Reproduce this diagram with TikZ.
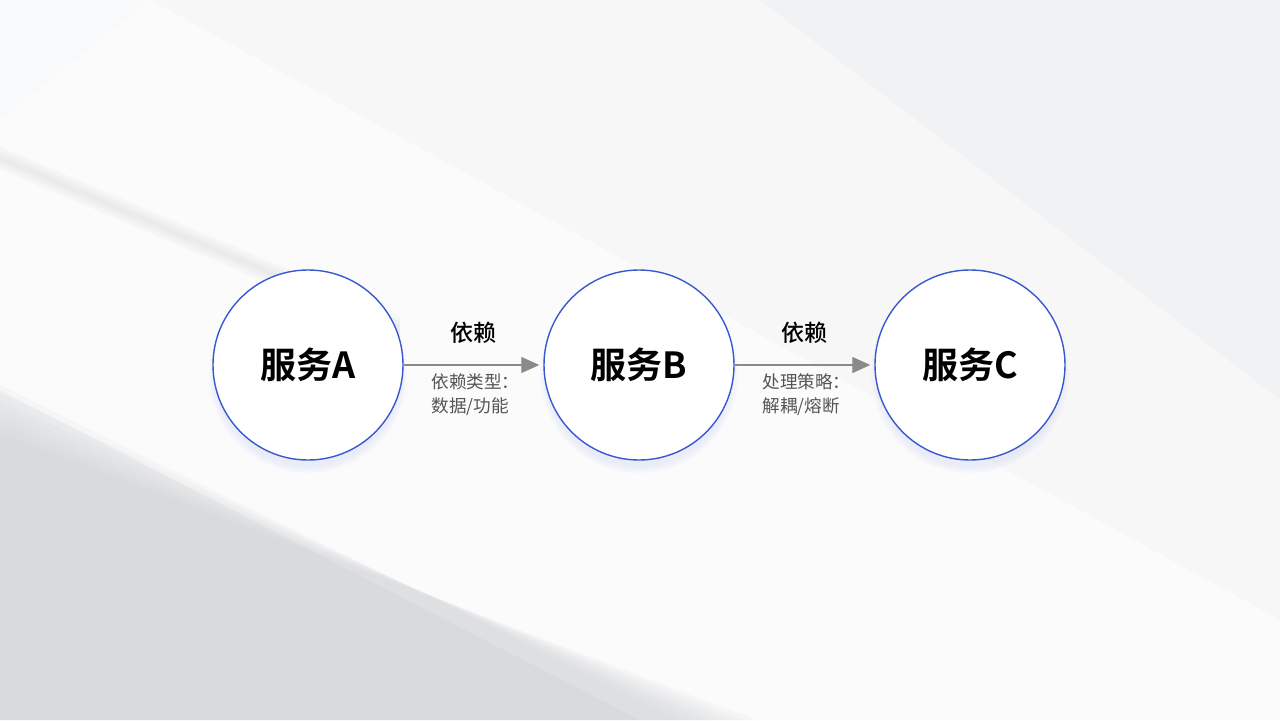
\documentclass[tikz,border=0pt]{standalone}
\usepackage{fontspec}
\setmainfont{Noto Sans CJK SC}
\newfontfamily\cjkbold{Noto Sans CJK SC Bold}
\newfontfamily\cjkmed{Noto Sans CJK SC Medium}
\usetikzlibrary{positioning,shapes,arrows.meta,calc}
\definecolor{ringblue}{HTML}{3858D0}
\definecolor{glowblue}{HTML}{A9BBF2}
\definecolor{arrowgray}{HTML}{8A8A8A}
\definecolor{notegray}{HTML}{555555}
\definecolor{bgbase}{HTML}{F1F2F4}
\definecolor{bgshadow}{HTML}{C4C6CA}
\tikzset{
	svc/.style={circle,draw=ringblue,line width=0.7pt,fill=white,minimum size=95pt,inner sep=0pt,
		font=\cjkbold\fontsize{18}{20}\selectfont},
	dep/.style={-{Triangle[length=9pt,width=8pt]},draw=arrowgray,fill=arrowgray,line width=0.6pt,shorten >=2pt},
	deplabel/.style={font=\cjkmed\fontsize{11.5}{13}\selectfont,text=black},
	depnote/.style={font=\fontsize{8.8}{12}\selectfont,text=notegray,align=left}
}
\begin{document}
\begin{tikzpicture}[x=0.5pt,y=0.5pt]
		\def\W{1280}
		\def\H{720}
		\def\cy{355}
		% background
		\fill[bgbase] (0,0) rectangle (\W,\H);
		\useasboundingbox (0,0) rectangle (\W,\H);
		\fill[white,opacity=0.55] (0,\H) -- (150,\H) -- (1280,100) -- (1280,0) -- (640,0) -- (0,330) -- cycle;
		\fill[white,opacity=0.45] (0,600) -- (0,330) -- (640,0) -- (1280,0) -- (1280,320) -- (760,\H) -- (150,\H) -- cycle;
		% soft shadow at lower left
		\foreach \d in {0,8,16,24,32,40,48}
			\fill[bgshadow,opacity=0.09] (0,0) -- (0,{335-\d}) -- ({680+\d*1.6},0) -- cycle;
		% diagonal streak at upper left
		\foreach \w in {3,7,11}
			\fill[bgshadow,opacity=0.1] (0,{562+\w}) -- (0,{562-\w}) -- (400,{392-\w}) -- (400,{392+\w}) -- cycle;
		% services (soft glow below)
		\foreach \x in {308,639,970}
			\foreach \r in {99,97,95,93}
				\fill[glowblue,opacity=0.05] (\x,\cy-9) circle (\r);
		\node[svc] (A) at (308,\cy) {服务A};
		\node[svc] (B) at (639,\cy) {服务B};
		\node[svc] (C) at (970,\cy) {服务C};
		% dependencies
		\draw[dep] (A) -- (B);
		\draw[dep] (B) -- (C);
		\node[deplabel] (lab1) at ($(A.east)!0.5!(B.west)+(0,32)$) {依赖};
		\node[deplabel] (lab2) at ($(B.east)!0.5!(C.west)+(0,32)$) {依赖};
		\node[depnote] (note1) at ($(A.east)!0.5!(B.west)+(2,-30)$) {依赖类型：\\数据/功能};
		\node[depnote] (note2) at ($(B.east)!0.5!(C.west)+(2,-30)$) {处理策略：\\解耦/熔断};
	\end{tikzpicture}
\end{document}
